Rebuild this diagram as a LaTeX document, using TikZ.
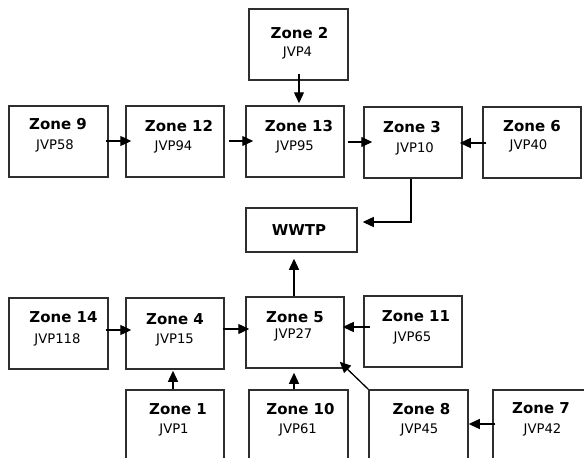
\documentclass[tikz,border=0pt]{standalone}
\usepackage{fontspec}
\setmainfont{DejaVu Sans}
\usetikzlibrary{arrows.meta,calc}
\definecolor{boxline}{HTML}{2E2E2E}
\tikzset{
  zone/.style={draw=boxline, line width=1.5pt, rectangle, inner sep=0pt,
               minimum width=98pt, minimum height=71pt},
  ttl/.style={anchor=base, inner sep=0pt, font=\fontsize{15}{17}\selectfont\bfseries},
  sub/.style={anchor=base, inner sep=0pt, font=\fontsize{13.2}{15}\selectfont},
  flow/.style={draw=black, line width=1.3pt, -{Triangle[length=11pt,width=10pt]}}
}
\begin{document}
\begin{tikzpicture}[x=1pt,y=-1pt]
\useasboundingbox (0,0) rectangle (584,458);
\clip (0,0) rectangle (584,458);

% top row
\node[zone, minimum width=99pt] (z9) at (58.5,141.5) {};
\node[zone] (z12) at (175,141.5) {};
\node[zone] (z13) at (295,141.5) {};
\node[zone, minimum width=99pt] (z2) at (298.5,44.5) {};
\node[zone] (z3) at (413,142.5) {};
\node[zone] (z6) at (532,142.5) {};

% treatment plant
\node[zone, minimum width=111pt, minimum height=44pt] (wwtp) at (301.5,230) {};

% lower rows
\node[zone, minimum width=99pt] (z14) at (58.5,333.5) {};
\node[zone] (z4) at (175,333.5) {};
\node[zone] (z5) at (295,332.5) {};
\node[zone] (z11) at (413,331.5) {};
\node[zone] (z1) at (175,425.5) {};
\node[zone, minimum width=99pt] (z10) at (298.5,425.5) {};
\node[zone, minimum width=99pt] (z8) at (418.5,425.5) {};
\node[zone, minimum width=99pt] (z7) at (542.5,425.5) {};

% labels
\node[ttl] (t9) at (58,129) {Zone 9};      \node[sub] (s9) at (55,149) {JVP58};
\node[ttl] (t12) at (179,131) {Zone 12};   \node[sub] (s12) at (173.5,150) {JVP94};
\node[ttl] (t13) at (299,131) {Zone 13};   \node[sub] (s13) at (295,150) {JVP95};
\node[ttl] (t2) at (299.5,38) {Zone 2};    \node[sub] (s2) at (297.5,56) {JVP4};
\node[ttl] (t3) at (412,132) {Zone 3};     \node[sub] (s3) at (415,152) {JVP10};
\node[ttl] (t6) at (532,131) {Zone 6};     \node[sub] (s6) at (528.5,149) {JVP40};
\node[ttl] (tw) at (299,235) {WWTP};
\node[ttl] (t14) at (63.5,322) {Zone 14};  \node[sub] (s14) at (57.5,343) {JVP118};
\node[ttl] (t4) at (175,324) {Zone 4};     \node[sub] (s4) at (175,343) {JVP15};
\node[ttl] (t5) at (295,322) {Zone 5};     \node[sub] (s5) at (293.5,338) {JVP27};
\node[ttl] (t11) at (416,321) {Zone 11};   \node[sub] (s11) at (412.5,341) {JVP65};
\node[ttl] (t1) at (178,414) {Zone 1};     \node[sub] (s1) at (174,433) {JVP1};
\node[ttl] (t10) at (300.5,414) {Zone 10}; \node[sub] (s10) at (298,433) {JVP61};
\node[ttl] (t8) at (421.5,414) {Zone 8};   \node[sub] (s8) at (419.5,433) {JVP45};
\node[ttl] (t7) at (541,413) {Zone 7};     \node[sub] (s7) at (542.5,433) {JVP42};

% flows
\draw[flow] ($(z9.east)+(-3,-0.5)$) -- ($(z12.west)+(6,-0.5)$);
\draw[flow] ($(z12.east)+(4,-0.5)$) -- ($(z13.west)+(8,-0.5)$);
\draw[flow] ($(z13.east)+(3,0.5)$) -- ($(z3.west)+(9,-0.5)$);
\draw[flow] ($(z6.west)+(4,0.5)$) -- ($(z3.east)+(-3,0.5)$);
\draw[flow] ($(z2.south)+(0.5,-7)$) -- ($(z13.north)+(4,-2)$);
\draw[flow] ($(z3.south)+(-2,0)$) |- ($(wwtp.east)+(5,-8)$);
\draw[flow] ($(z5.north)+(-1,0)$) -- ($(wwtp.south)+(-7.5,6)$);
\draw[flow] ($(z14.east)+(-3,-3.5)$) -- ($(z4.west)+(6,-3.5)$);
\draw[flow] ($(z4.east)+(-2,-4.5)$) -- ($(z5.west)+(4,-3.5)$);
\draw[flow] ($(z11.west)+(7,-4.5)$) -- ($(z5.east)+(-2,-5.5)$);
\draw[flow] ($(z1.north)+(-2,0)$) -- ($(z4.south)+(-2,1)$);
\draw[flow] ($(z10.north)+(-4.5,0)$) -- ($(z5.south)+(-1,4)$);
\draw[flow] (z8.north west) -- ($(z5.south east)+(-5,-7)$);
\draw[flow] ($(z7.west)+(3,-1.5)$) -- ($(z8.east)+(0,-1.5)$);
\end{tikzpicture}
\end{document}
